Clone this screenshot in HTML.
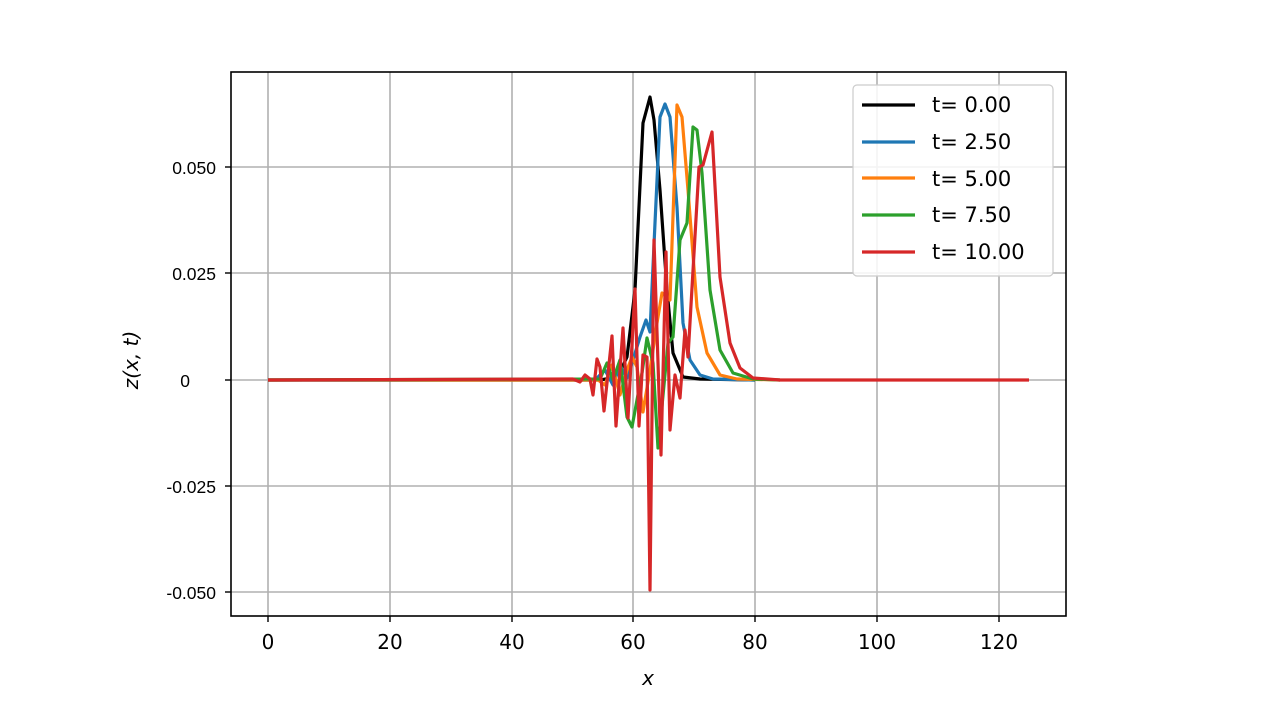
<!DOCTYPE html>
<html><head><style>body{margin:0;background:#fff}svg{display:block}</style></head><body>
<svg width="1280" height="720" viewBox="0 0 1280 720" font-family="'DejaVu Sans','Liberation Sans',sans-serif">
<rect width="1280" height="720" fill="#fff"/>
<g stroke="#b0b0b0" stroke-width="1.6">
<line x1="268" y1="72" x2="268" y2="616"/><line x1="390" y1="72" x2="390" y2="616"/><line x1="512" y1="72" x2="512" y2="616"/><line x1="633" y1="72" x2="633" y2="616"/><line x1="755" y1="72" x2="755" y2="616"/><line x1="877" y1="72" x2="877" y2="616"/><line x1="999" y1="72" x2="999" y2="616"/>
<line x1="231" y1="167" x2="1066" y2="167"/><line x1="231" y1="273" x2="1066" y2="273"/><line x1="231" y1="380" x2="1066" y2="380"/><line x1="231" y1="486" x2="1066" y2="486"/><line x1="231" y1="592" x2="1066" y2="592"/>
</g>
<g fill="none" stroke-width="3.2" stroke-linejoin="round">
<polyline stroke="#000" points="268,380 600,380 612,378 620,372 627,357 635,290 643,123 650,97 654,120 660,190 667,290 673,353 683,377 700,379 755,380"/>
<polyline stroke="#1f77b4" points="268,380 595,380 605,370 613,385 620,365 627,378 633,360 640,337 646,320 650,332 655,223 660,117 665,104 670,117 677,207 683,323 690,360 700,375 713,379 755,380"/>
<polyline stroke="#ff7f0e" points="268,380 598,380 605,385 612,365 620,395 627,370 632,357 637,367 643,412 650,370 657,323 662,293 670,300 677,105 682,117 688,190 697,307 707,353 720,375 737,379 780,380"/>
<polyline stroke="#2ca02c" points="268,380 600,379 607,363 613,380 620,360 627,417 632,427 642,373 647,338 653,363 658,448 668,343 673,337 680,240 687,223 693,127 697,130 702,173 710,290 720,350 733,373 753,379 780,380"/>
<polyline stroke="#d62728" points="268,380 573,379 580,382 585,375 590,379 593,395 597,359 600,367 604,411 612,336 616,426 623,328 628,418 635,289 639,426 643,355 647,357 650,590 654,240 661,455 666,252 670,430 675,375 680,398 685,330 688,357 699,167 703,165 712,132 720,277 730,343 740,368 753,378 780,380 1029,380"/>
</g>
<rect x="231" y="72" width="835" height="544" fill="none" stroke="#000" stroke-width="1.6"/>
<g stroke="#000" stroke-width="1.4">
<line x1="268" y1="616" x2="268" y2="622"/><line x1="390" y1="616" x2="390" y2="622"/><line x1="512" y1="616" x2="512" y2="622"/><line x1="633" y1="616" x2="633" y2="622"/><line x1="755" y1="616" x2="755" y2="622"/><line x1="877" y1="616" x2="877" y2="622"/><line x1="999" y1="616" x2="999" y2="622"/>
<line x1="225" y1="167" x2="231" y2="167"/><line x1="225" y1="273" x2="231" y2="273"/><line x1="225" y1="380" x2="231" y2="380"/><line x1="225" y1="486" x2="231" y2="486"/><line x1="225" y1="592" x2="231" y2="592"/>
</g>
<g font-size="20" text-anchor="middle" fill="#000">
<text x="268" y="649">0</text><text x="390" y="649">20</text><text x="512" y="649">40</text><text x="633" y="649">60</text><text x="755" y="649">80</text><text x="877" y="649">100</text><text x="999" y="649">120</text>
<text x="648" y="685" font-style="italic">x</text>
</g>
<g font-size="17.5" text-anchor="end" fill="#000" font-family="'Liberation Sans',sans-serif">
<text x="216" y="174">0.050</text><text x="216" y="280">0.025</text><text x="190" y="387">0</text><text x="216" y="493">-0.025</text><text x="216" y="599">-0.050</text>
</g>
<text transform="translate(138,360) rotate(-90)" font-size="20" text-anchor="middle" font-style="italic">z(x, t)</text>
<rect x="853" y="85" width="200" height="191" rx="4" fill="#fff" fill-opacity="0.85" stroke="#ccc" stroke-width="1.2"/>
<g stroke-width="3.2">
<line x1="862" y1="105" x2="915" y2="105" stroke="#000"/>
<line x1="862" y1="142" x2="915" y2="142" stroke="#1f77b4"/>
<line x1="862" y1="178" x2="915" y2="178" stroke="#ff7f0e"/>
<line x1="862" y1="215" x2="915" y2="215" stroke="#2ca02c"/>
<line x1="862" y1="252" x2="915" y2="252" stroke="#d62728"/>
</g>
<g font-size="21" fill="#000">
<text x="932" y="112">t= 0.00</text><text x="932" y="149">t= 2.50</text><text x="932" y="186">t= 5.00</text><text x="932" y="222">t= 7.50</text><text x="932" y="259">t= 10.00</text>
</g>
</svg>
</body></html>
